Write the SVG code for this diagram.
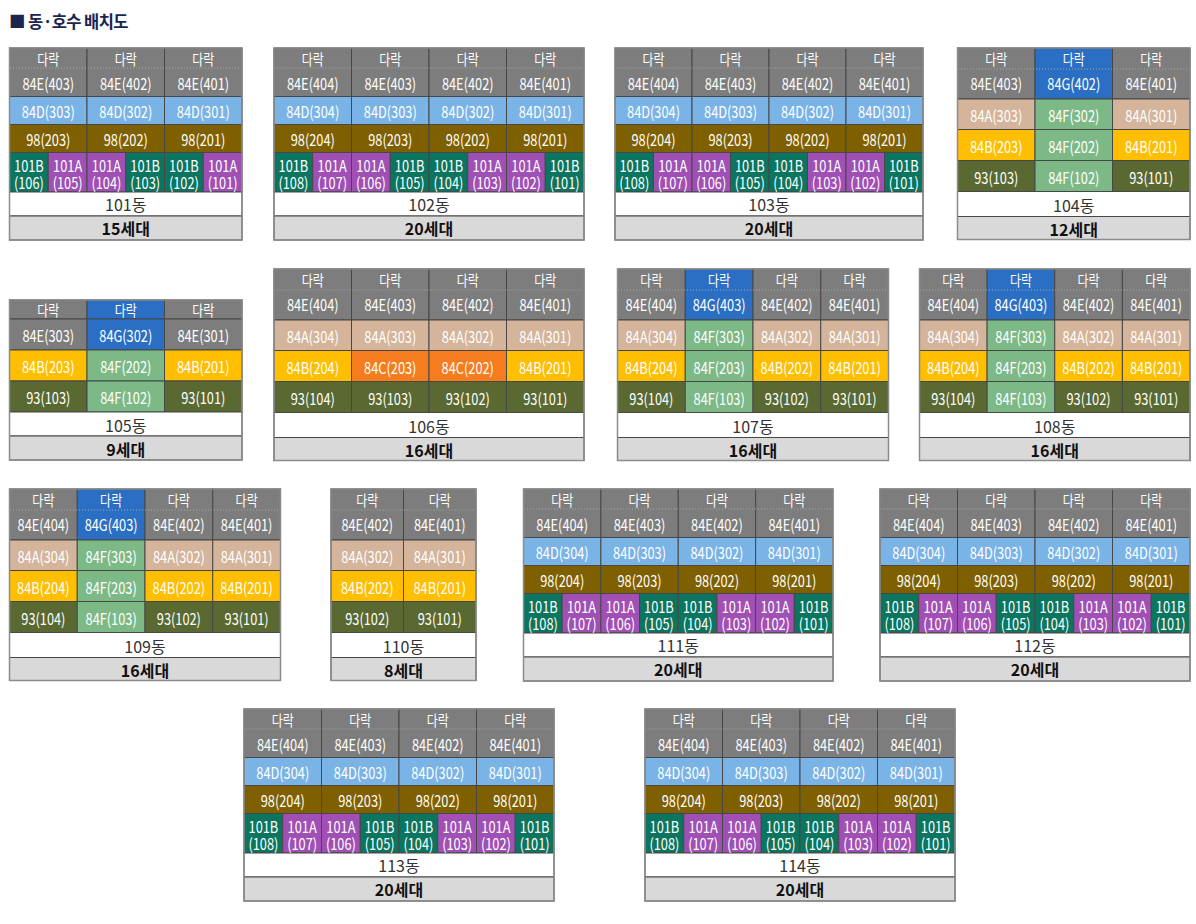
<svg xmlns="http://www.w3.org/2000/svg" width="1196" height="924" viewBox="0 0 1196 924">
<style>
text{font-family:"Noto Sans CJK KR","Noto Sans",sans-serif;text-anchor:middle;dominant-baseline:central}
rect{stroke:#474747;stroke-width:1}
.E{fill:#7d7d7d}.G{fill:#2b6fc4}.D{fill:#7ab3e5}.N{fill:#7f6000}.TB{fill:#0b7560}.PA{fill:#a050b4}
.A{fill:#d4b49b}.F{fill:#7db987}.B{fill:#ffbe00}.K{fill:#5a6932}.C{fill:#f57d1e}.W{fill:#fff}.S{fill:#d9d9d9}
.o{fill:none;stroke:#8c8c8c;stroke-width:1.5}
.dot{stroke:#a9a9a9;stroke-width:1;stroke-dasharray:1 2}
.c text{fill:#fff;font-size:16px}
.c .lt{font-size:15px}
.dg{font-size:16px;fill:#333}
.hh{font-size:16px;font-weight:700;fill:#111}
.title{font-size:16.5px;font-weight:700;fill:#1c2550;text-anchor:start;dominant-baseline:auto;letter-spacing:-0.6px}
</style>
<text class="title" x="9" y="28">■ 동·호수 배치도</text>

<g id="b101">
<rect class="E" x="9.5" y="48" width="77.5" height="48.5"/><rect class="E" x="87" y="48" width="77.5" height="48.5"/><rect class="E" x="164.5" y="48" width="77.5" height="48.5"/>
<rect class="D" x="9.5" y="96.5" width="77.5" height="28"/><rect class="D" x="87" y="96.5" width="77.5" height="28"/><rect class="D" x="164.5" y="96.5" width="77.5" height="28"/>
<rect class="N" x="9.5" y="124.5" width="77.5" height="28"/><rect class="N" x="87" y="124.5" width="77.5" height="28"/><rect class="N" x="164.5" y="124.5" width="77.5" height="28"/>
<rect class="TB" x="9.5" y="152.5" width="38.75" height="39.5"/><rect class="PA" x="48.25" y="152.5" width="38.75" height="39.5"/><rect class="PA" x="87" y="152.5" width="38.75" height="39.5"/><rect class="TB" x="125.75" y="152.5" width="38.75" height="39.5"/><rect class="TB" x="164.5" y="152.5" width="38.75" height="39.5"/><rect class="PA" x="203.25" y="152.5" width="38.75" height="39.5"/>
<rect class="W" x="9.5" y="192" width="232.5" height="24"/><rect class="S" x="9.5" y="216" width="232.5" height="24"/>
<line class="dot" x1="10" y1="68" x2="241.5" y2="68"/>
<rect class="o" x="9.5" y="48" width="232.5" height="192"/>
<g class="c" transform="translate(48.25 0) scale(.8 1)"><text class="lt" y="58.5">다락</text><text y="82.5">84E(403)</text><text y="110.5">84D(303)</text><text y="138.5">98(203)</text></g>
<g class="c" transform="translate(125.75 0) scale(.8 1)"><text class="lt" y="58.5">다락</text><text y="82.5">84E(402)</text><text y="110.5">84D(302)</text><text y="138.5">98(202)</text></g>
<g class="c" transform="translate(203.25 0) scale(.8 1)"><text class="lt" y="58.5">다락</text><text y="82.5">84E(401)</text><text y="110.5">84D(301)</text><text y="138.5">98(201)</text></g>
<g class="c" transform="translate(28.875 0) scale(.8 1)"><text><tspan x="0" y="164">101B</tspan><tspan x="0" y="181">(106)</tspan></text></g>
<g class="c" transform="translate(67.625 0) scale(.8 1)"><text><tspan x="0" y="164">101A</tspan><tspan x="0" y="181">(105)</tspan></text></g>
<g class="c" transform="translate(106.375 0) scale(.8 1)"><text><tspan x="0" y="164">101A</tspan><tspan x="0" y="181">(104)</tspan></text></g>
<g class="c" transform="translate(145.125 0) scale(.8 1)"><text><tspan x="0" y="164">101B</tspan><tspan x="0" y="181">(103)</tspan></text></g>
<g class="c" transform="translate(183.875 0) scale(.8 1)"><text><tspan x="0" y="164">101B</tspan><tspan x="0" y="181">(102)</tspan></text></g>
<g class="c" transform="translate(222.625 0) scale(.8 1)"><text><tspan x="0" y="164">101A</tspan><tspan x="0" y="181">(101)</tspan></text></g>
<text class="dg" x="125.75" y="204">101동</text><text class="hh" x="125.75" y="228">15세대</text>
</g>

<g id="b102">
<rect class="E" x="274" y="48" width="77.5" height="48.5"/><rect class="E" x="351.5" y="48" width="77.5" height="48.5"/><rect class="E" x="429" y="48" width="77.5" height="48.5"/><rect class="E" x="506.5" y="48" width="77.5" height="48.5"/>
<rect class="D" x="274" y="96.5" width="77.5" height="28"/><rect class="D" x="351.5" y="96.5" width="77.5" height="28"/><rect class="D" x="429" y="96.5" width="77.5" height="28"/><rect class="D" x="506.5" y="96.5" width="77.5" height="28"/>
<rect class="N" x="274" y="124.5" width="77.5" height="28"/><rect class="N" x="351.5" y="124.5" width="77.5" height="28"/><rect class="N" x="429" y="124.5" width="77.5" height="28"/><rect class="N" x="506.5" y="124.5" width="77.5" height="28"/>
<rect class="TB" x="274" y="152.5" width="38.75" height="39.5"/><rect class="PA" x="312.75" y="152.5" width="38.75" height="39.5"/><rect class="PA" x="351.5" y="152.5" width="38.75" height="39.5"/><rect class="TB" x="390.25" y="152.5" width="38.75" height="39.5"/><rect class="TB" x="429" y="152.5" width="38.75" height="39.5"/><rect class="PA" x="467.75" y="152.5" width="38.75" height="39.5"/><rect class="PA" x="506.5" y="152.5" width="38.75" height="39.5"/><rect class="TB" x="545.25" y="152.5" width="38.75" height="39.5"/>
<rect class="W" x="274" y="192" width="310" height="24"/><rect class="S" x="274" y="216" width="310" height="24"/>
<line class="dot" x1="274.5" y1="68" x2="583.5" y2="68"/>
<rect class="o" x="274" y="48" width="310" height="192"/>
<g class="c" transform="translate(312.75 0) scale(.8 1)"><text class="lt" y="58.5">다락</text><text y="82.5">84E(404)</text><text y="110.5">84D(304)</text><text y="138.5">98(204)</text></g>
<g class="c" transform="translate(390.25 0) scale(.8 1)"><text class="lt" y="58.5">다락</text><text y="82.5">84E(403)</text><text y="110.5">84D(303)</text><text y="138.5">98(203)</text></g>
<g class="c" transform="translate(467.75 0) scale(.8 1)"><text class="lt" y="58.5">다락</text><text y="82.5">84E(402)</text><text y="110.5">84D(302)</text><text y="138.5">98(202)</text></g>
<g class="c" transform="translate(545.25 0) scale(.8 1)"><text class="lt" y="58.5">다락</text><text y="82.5">84E(401)</text><text y="110.5">84D(301)</text><text y="138.5">98(201)</text></g>
<g class="c" transform="translate(293.375 0) scale(.8 1)"><text><tspan x="0" y="164">101B</tspan><tspan x="0" y="181">(108)</tspan></text></g>
<g class="c" transform="translate(332.125 0) scale(.8 1)"><text><tspan x="0" y="164">101A</tspan><tspan x="0" y="181">(107)</tspan></text></g>
<g class="c" transform="translate(370.875 0) scale(.8 1)"><text><tspan x="0" y="164">101A</tspan><tspan x="0" y="181">(106)</tspan></text></g>
<g class="c" transform="translate(409.625 0) scale(.8 1)"><text><tspan x="0" y="164">101B</tspan><tspan x="0" y="181">(105)</tspan></text></g>
<g class="c" transform="translate(448.375 0) scale(.8 1)"><text><tspan x="0" y="164">101B</tspan><tspan x="0" y="181">(104)</tspan></text></g>
<g class="c" transform="translate(487.125 0) scale(.8 1)"><text><tspan x="0" y="164">101A</tspan><tspan x="0" y="181">(103)</tspan></text></g>
<g class="c" transform="translate(525.875 0) scale(.8 1)"><text><tspan x="0" y="164">101A</tspan><tspan x="0" y="181">(102)</tspan></text></g>
<g class="c" transform="translate(564.625 0) scale(.8 1)"><text><tspan x="0" y="164">101B</tspan><tspan x="0" y="181">(101)</tspan></text></g>
<text class="dg" x="429" y="204">102동</text><text class="hh" x="429" y="228">20세대</text>
</g>

<g id="b103">
<rect class="E" x="615" y="48" width="77" height="48.5"/><rect class="E" x="692" y="48" width="77" height="48.5"/><rect class="E" x="769" y="48" width="77" height="48.5"/><rect class="E" x="846" y="48" width="77" height="48.5"/>
<rect class="D" x="615" y="96.5" width="77" height="28"/><rect class="D" x="692" y="96.5" width="77" height="28"/><rect class="D" x="769" y="96.5" width="77" height="28"/><rect class="D" x="846" y="96.5" width="77" height="28"/>
<rect class="N" x="615" y="124.5" width="77" height="28"/><rect class="N" x="692" y="124.5" width="77" height="28"/><rect class="N" x="769" y="124.5" width="77" height="28"/><rect class="N" x="846" y="124.5" width="77" height="28"/>
<rect class="TB" x="615" y="152.5" width="38.5" height="39.5"/><rect class="PA" x="653.5" y="152.5" width="38.5" height="39.5"/><rect class="PA" x="692" y="152.5" width="38.5" height="39.5"/><rect class="TB" x="730.5" y="152.5" width="38.5" height="39.5"/><rect class="TB" x="769" y="152.5" width="38.5" height="39.5"/><rect class="PA" x="807.5" y="152.5" width="38.5" height="39.5"/><rect class="PA" x="846" y="152.5" width="38.5" height="39.5"/><rect class="TB" x="884.5" y="152.5" width="38.5" height="39.5"/>
<rect class="W" x="615" y="192" width="308" height="24"/><rect class="S" x="615" y="216" width="308" height="24"/>
<line class="dot" x1="615.5" y1="68" x2="922.5" y2="68"/>
<rect class="o" x="615" y="48" width="308" height="192"/>
<g class="c" transform="translate(653.5 0) scale(.8 1)"><text class="lt" y="58.5">다락</text><text y="82.5">84E(404)</text><text y="110.5">84D(304)</text><text y="138.5">98(204)</text></g>
<g class="c" transform="translate(730.5 0) scale(.8 1)"><text class="lt" y="58.5">다락</text><text y="82.5">84E(403)</text><text y="110.5">84D(303)</text><text y="138.5">98(203)</text></g>
<g class="c" transform="translate(807.5 0) scale(.8 1)"><text class="lt" y="58.5">다락</text><text y="82.5">84E(402)</text><text y="110.5">84D(302)</text><text y="138.5">98(202)</text></g>
<g class="c" transform="translate(884.5 0) scale(.8 1)"><text class="lt" y="58.5">다락</text><text y="82.5">84E(401)</text><text y="110.5">84D(301)</text><text y="138.5">98(201)</text></g>
<g class="c" transform="translate(634.25 0) scale(.8 1)"><text><tspan x="0" y="164">101B</tspan><tspan x="0" y="181">(108)</tspan></text></g>
<g class="c" transform="translate(672.75 0) scale(.8 1)"><text><tspan x="0" y="164">101A</tspan><tspan x="0" y="181">(107)</tspan></text></g>
<g class="c" transform="translate(711.25 0) scale(.8 1)"><text><tspan x="0" y="164">101A</tspan><tspan x="0" y="181">(106)</tspan></text></g>
<g class="c" transform="translate(749.75 0) scale(.8 1)"><text><tspan x="0" y="164">101B</tspan><tspan x="0" y="181">(105)</tspan></text></g>
<g class="c" transform="translate(788.25 0) scale(.8 1)"><text><tspan x="0" y="164">101B</tspan><tspan x="0" y="181">(104)</tspan></text></g>
<g class="c" transform="translate(826.75 0) scale(.8 1)"><text><tspan x="0" y="164">101A</tspan><tspan x="0" y="181">(103)</tspan></text></g>
<g class="c" transform="translate(865.25 0) scale(.8 1)"><text><tspan x="0" y="164">101A</tspan><tspan x="0" y="181">(102)</tspan></text></g>
<g class="c" transform="translate(903.75 0) scale(.8 1)"><text><tspan x="0" y="164">101B</tspan><tspan x="0" y="181">(101)</tspan></text></g>
<text class="dg" x="769" y="204">103동</text><text class="hh" x="769" y="228">20세대</text>
</g>

<g id="b104">
<rect class="E" x="957.5" y="48" width="77.5" height="51"/><rect class="G" x="1035" y="48" width="77.5" height="51"/><rect class="E" x="1112.5" y="48" width="77.5" height="51"/>
<rect class="A" x="957.5" y="99" width="77.5" height="30.5"/><rect class="F" x="1035" y="99" width="77.5" height="30.5"/><rect class="A" x="1112.5" y="99" width="77.5" height="30.5"/>
<rect class="B" x="957.5" y="129.5" width="77.5" height="31"/><rect class="F" x="1035" y="129.5" width="77.5" height="31"/><rect class="B" x="1112.5" y="129.5" width="77.5" height="31"/>
<rect class="K" x="957.5" y="160.5" width="77.5" height="31"/><rect class="F" x="1035" y="160.5" width="77.5" height="31"/><rect class="K" x="1112.5" y="160.5" width="77.5" height="31"/>
<rect class="W" x="957.5" y="191.5" width="232.5" height="25"/><rect class="S" x="957.5" y="216.5" width="232.5" height="23"/>
<line class="dot" x1="958" y1="69" x2="1189.5" y2="69"/>
<rect class="o" x="957.5" y="48" width="232.5" height="191.5"/>
<g class="c" transform="translate(996.25 0) scale(.8 1)"><text class="lt" y="58">다락</text><text y="82.5">84E(403)</text><text y="114.5">84A(303)</text><text y="145.5">84B(203)</text><text y="176.5">93(103)</text></g>
<g class="c" transform="translate(1073.75 0) scale(.8 1)"><text class="lt" y="58">다락</text><text y="82.5">84G(402)</text><text y="114.5">84F(302)</text><text y="145.5">84F(202)</text><text y="176.5">84F(102)</text></g>
<g class="c" transform="translate(1151.25 0) scale(.8 1)"><text class="lt" y="58">다락</text><text y="82.5">84E(401)</text><text y="114.5">84A(301)</text><text y="145.5">84B(201)</text><text y="176.5">93(101)</text></g>
<text class="dg" x="1073.75" y="204.5">104동</text><text class="hh" x="1073.75" y="228.5">12세대</text>
</g>

<g id="b105">
<rect class="E" x="9.5" y="300" width="77.5" height="19"/><rect class="G" x="87" y="300" width="77.5" height="19"/><rect class="E" x="164.5" y="300" width="77.5" height="19"/>
<rect class="E" x="9.5" y="319" width="77.5" height="31"/><rect class="G" x="87" y="319" width="77.5" height="31"/><rect class="E" x="164.5" y="319" width="77.5" height="31"/>
<rect class="B" x="9.5" y="350" width="77.5" height="31"/><rect class="F" x="87" y="350" width="77.5" height="31"/><rect class="B" x="164.5" y="350" width="77.5" height="31"/>
<rect class="K" x="9.5" y="381" width="77.5" height="31"/><rect class="F" x="87" y="381" width="77.5" height="31"/><rect class="K" x="164.5" y="381" width="77.5" height="31"/>
<rect class="W" x="9.5" y="412" width="232.5" height="24"/><rect class="S" x="9.5" y="436" width="232.5" height="24"/>
<rect class="o" x="9.5" y="300" width="232.5" height="160"/>
<g class="c" transform="translate(48.25 0) scale(.8 1)"><text class="lt" y="309.5">다락</text><text y="335">84E(303)</text><text y="366">84B(203)</text><text y="397">93(103)</text></g>
<g class="c" transform="translate(125.75 0) scale(.8 1)"><text class="lt" y="309.5">다락</text><text y="335">84G(302)</text><text y="366">84F(202)</text><text y="397">84F(102)</text></g>
<g class="c" transform="translate(203.25 0) scale(.8 1)"><text class="lt" y="309.5">다락</text><text y="335">84E(301)</text><text y="366">84B(201)</text><text y="397">93(101)</text></g>
<text class="dg" x="125.75" y="425">105동</text><text class="hh" x="125.75" y="449">9세대</text>
</g>

<g id="b106">
<rect class="E" x="274" y="269" width="77.5" height="51"/><rect class="E" x="351.5" y="269" width="77.5" height="51"/><rect class="E" x="429" y="269" width="77.5" height="51"/><rect class="E" x="506.5" y="269" width="77.5" height="51"/>
<rect class="A" x="274" y="320" width="77.5" height="30.5"/><rect class="A" x="351.5" y="320" width="77.5" height="30.5"/><rect class="A" x="429" y="320" width="77.5" height="30.5"/><rect class="A" x="506.5" y="320" width="77.5" height="30.5"/>
<rect class="B" x="274" y="350.5" width="77.5" height="31"/><rect class="C" x="351.5" y="350.5" width="77.5" height="31"/><rect class="C" x="429" y="350.5" width="77.5" height="31"/><rect class="B" x="506.5" y="350.5" width="77.5" height="31"/>
<rect class="K" x="274" y="381.5" width="77.5" height="31"/><rect class="K" x="351.5" y="381.5" width="77.5" height="31"/><rect class="K" x="429" y="381.5" width="77.5" height="31"/><rect class="K" x="506.5" y="381.5" width="77.5" height="31"/>
<rect class="W" x="274" y="412.5" width="310" height="25"/><rect class="S" x="274" y="437.5" width="310" height="23"/>
<line class="dot" x1="274.5" y1="290" x2="583.5" y2="290"/>
<rect class="o" x="274" y="269" width="310" height="191.5"/>
<g class="c" transform="translate(312.75 0) scale(.8 1)"><text class="lt" y="279">다락</text><text y="303.5">84E(404)</text><text y="335.5">84A(304)</text><text y="366.5">84B(204)</text><text y="397.5">93(104)</text></g>
<g class="c" transform="translate(390.25 0) scale(.8 1)"><text class="lt" y="279">다락</text><text y="303.5">84E(403)</text><text y="335.5">84A(303)</text><text y="366.5">84C(203)</text><text y="397.5">93(103)</text></g>
<g class="c" transform="translate(467.75 0) scale(.8 1)"><text class="lt" y="279">다락</text><text y="303.5">84E(402)</text><text y="335.5">84A(302)</text><text y="366.5">84C(202)</text><text y="397.5">93(102)</text></g>
<g class="c" transform="translate(545.25 0) scale(.8 1)"><text class="lt" y="279">다락</text><text y="303.5">84E(401)</text><text y="335.5">84A(301)</text><text y="366.5">84B(201)</text><text y="397.5">93(101)</text></g>
<text class="dg" x="429" y="425.5">106동</text><text class="hh" x="429" y="449.5">16세대</text>
</g>

<g id="b107">
<rect class="E" x="617.5" y="269" width="67.75" height="51"/><rect class="G" x="685.25" y="269" width="67.75" height="51"/><rect class="E" x="753" y="269" width="67.75" height="51"/><rect class="E" x="820.75" y="269" width="67.75" height="51"/>
<rect class="A" x="617.5" y="320" width="67.75" height="30.5"/><rect class="F" x="685.25" y="320" width="67.75" height="30.5"/><rect class="A" x="753" y="320" width="67.75" height="30.5"/><rect class="A" x="820.75" y="320" width="67.75" height="30.5"/>
<rect class="B" x="617.5" y="350.5" width="67.75" height="31"/><rect class="F" x="685.25" y="350.5" width="67.75" height="31"/><rect class="B" x="753" y="350.5" width="67.75" height="31"/><rect class="B" x="820.75" y="350.5" width="67.75" height="31"/>
<rect class="K" x="617.5" y="381.5" width="67.75" height="31"/><rect class="F" x="685.25" y="381.5" width="67.75" height="31"/><rect class="K" x="753" y="381.5" width="67.75" height="31"/><rect class="K" x="820.75" y="381.5" width="67.75" height="31"/>
<rect class="W" x="617.5" y="412.5" width="271" height="25"/><rect class="S" x="617.5" y="437.5" width="271" height="23"/>
<line class="dot" x1="618" y1="290" x2="888" y2="290"/>
<rect class="o" x="617.5" y="269" width="271" height="191.5"/>
<g class="c" transform="translate(651.375 0) scale(.8 1)"><text class="lt" y="279">다락</text><text y="303.5">84E(404)</text><text y="335.5">84A(304)</text><text y="366.5">84B(204)</text><text y="397.5">93(104)</text></g>
<g class="c" transform="translate(719.125 0) scale(.8 1)"><text class="lt" y="279">다락</text><text y="303.5">84G(403)</text><text y="335.5">84F(303)</text><text y="366.5">84F(203)</text><text y="397.5">84F(103)</text></g>
<g class="c" transform="translate(786.875 0) scale(.8 1)"><text class="lt" y="279">다락</text><text y="303.5">84E(402)</text><text y="335.5">84A(302)</text><text y="366.5">84B(202)</text><text y="397.5">93(102)</text></g>
<g class="c" transform="translate(854.625 0) scale(.8 1)"><text class="lt" y="279">다락</text><text y="303.5">84E(401)</text><text y="335.5">84A(301)</text><text y="366.5">84B(201)</text><text y="397.5">93(101)</text></g>
<text class="dg" x="753" y="425.5">107동</text><text class="hh" x="753" y="449.5">16세대</text>
</g>

<g id="b108">
<rect class="E" x="919.5" y="269" width="67.625" height="51"/><rect class="G" x="987.125" y="269" width="67.625" height="51"/><rect class="E" x="1054.75" y="269" width="67.625" height="51"/><rect class="E" x="1122.375" y="269" width="67.625" height="51"/>
<rect class="A" x="919.5" y="320" width="67.625" height="30.5"/><rect class="F" x="987.125" y="320" width="67.625" height="30.5"/><rect class="A" x="1054.75" y="320" width="67.625" height="30.5"/><rect class="A" x="1122.375" y="320" width="67.625" height="30.5"/>
<rect class="B" x="919.5" y="350.5" width="67.625" height="31"/><rect class="F" x="987.125" y="350.5" width="67.625" height="31"/><rect class="B" x="1054.75" y="350.5" width="67.625" height="31"/><rect class="B" x="1122.375" y="350.5" width="67.625" height="31"/>
<rect class="K" x="919.5" y="381.5" width="67.625" height="31"/><rect class="F" x="987.125" y="381.5" width="67.625" height="31"/><rect class="K" x="1054.75" y="381.5" width="67.625" height="31"/><rect class="K" x="1122.375" y="381.5" width="67.625" height="31"/>
<rect class="W" x="919.5" y="412.5" width="270.5" height="25"/><rect class="S" x="919.5" y="437.5" width="270.5" height="23"/>
<line class="dot" x1="920" y1="290" x2="1189.5" y2="290"/>
<rect class="o" x="919.5" y="269" width="270.5" height="191.5"/>
<g class="c" transform="translate(953.31 0) scale(.8 1)"><text class="lt" y="279">다락</text><text y="303.5">84E(404)</text><text y="335.5">84A(304)</text><text y="366.5">84B(204)</text><text y="397.5">93(104)</text></g>
<g class="c" transform="translate(1020.94 0) scale(.8 1)"><text class="lt" y="279">다락</text><text y="303.5">84G(403)</text><text y="335.5">84F(303)</text><text y="366.5">84F(203)</text><text y="397.5">84F(103)</text></g>
<g class="c" transform="translate(1088.56 0) scale(.8 1)"><text class="lt" y="279">다락</text><text y="303.5">84E(402)</text><text y="335.5">84A(302)</text><text y="366.5">84B(202)</text><text y="397.5">93(102)</text></g>
<g class="c" transform="translate(1156.19 0) scale(.8 1)"><text class="lt" y="279">다락</text><text y="303.5">84E(401)</text><text y="335.5">84A(301)</text><text y="366.5">84B(201)</text><text y="397.5">93(101)</text></g>
<text class="dg" x="1054.75" y="425.5">108동</text><text class="hh" x="1054.75" y="449.5">16세대</text>
</g>

<g id="b109">
<rect class="E" x="9.5" y="489" width="67.75" height="51"/><rect class="G" x="77.25" y="489" width="67.75" height="51"/><rect class="E" x="145" y="489" width="67.75" height="51"/><rect class="E" x="212.75" y="489" width="67.75" height="51"/>
<rect class="A" x="9.5" y="540" width="67.75" height="30.5"/><rect class="F" x="77.25" y="540" width="67.75" height="30.5"/><rect class="A" x="145" y="540" width="67.75" height="30.5"/><rect class="A" x="212.75" y="540" width="67.75" height="30.5"/>
<rect class="B" x="9.5" y="570.5" width="67.75" height="31"/><rect class="F" x="77.25" y="570.5" width="67.75" height="31"/><rect class="B" x="145" y="570.5" width="67.75" height="31"/><rect class="B" x="212.75" y="570.5" width="67.75" height="31"/>
<rect class="K" x="9.5" y="601.5" width="67.75" height="31"/><rect class="F" x="77.25" y="601.5" width="67.75" height="31"/><rect class="K" x="145" y="601.5" width="67.75" height="31"/><rect class="K" x="212.75" y="601.5" width="67.75" height="31"/>
<rect class="W" x="9.5" y="632.5" width="271" height="25"/><rect class="S" x="9.5" y="657.5" width="271" height="23"/>
<line class="dot" x1="10" y1="510" x2="280" y2="510"/>
<rect class="o" x="9.5" y="489" width="271" height="191.5"/>
<g class="c" transform="translate(43.375 0) scale(.8 1)"><text class="lt" y="499">다락</text><text y="523.5">84E(404)</text><text y="555.5">84A(304)</text><text y="586.5">84B(204)</text><text y="617.5">93(104)</text></g>
<g class="c" transform="translate(111.125 0) scale(.8 1)"><text class="lt" y="499">다락</text><text y="523.5">84G(403)</text><text y="555.5">84F(303)</text><text y="586.5">84F(203)</text><text y="617.5">84F(103)</text></g>
<g class="c" transform="translate(178.875 0) scale(.8 1)"><text class="lt" y="499">다락</text><text y="523.5">84E(402)</text><text y="555.5">84A(302)</text><text y="586.5">84B(202)</text><text y="617.5">93(102)</text></g>
<g class="c" transform="translate(246.625 0) scale(.8 1)"><text class="lt" y="499">다락</text><text y="523.5">84E(401)</text><text y="555.5">84A(301)</text><text y="586.5">84B(201)</text><text y="617.5">93(101)</text></g>
<text class="dg" x="145" y="645.5">109동</text><text class="hh" x="145" y="669.5">16세대</text>
</g>

<g id="b110">
<rect class="E" x="331" y="489" width="72.5" height="51"/><rect class="E" x="403.5" y="489" width="72.5" height="51"/>
<rect class="A" x="331" y="540" width="72.5" height="30.5"/><rect class="A" x="403.5" y="540" width="72.5" height="30.5"/>
<rect class="B" x="331" y="570.5" width="72.5" height="31"/><rect class="B" x="403.5" y="570.5" width="72.5" height="31"/>
<rect class="K" x="331" y="601.5" width="72.5" height="31"/><rect class="K" x="403.5" y="601.5" width="72.5" height="31"/>
<rect class="W" x="331" y="632.5" width="145" height="25"/><rect class="S" x="331" y="657.5" width="145" height="23"/>
<line class="dot" x1="331.5" y1="510" x2="475.5" y2="510"/>
<rect class="o" x="331" y="489" width="145" height="191.5"/>
<g class="c" transform="translate(367.25 0) scale(.8 1)"><text class="lt" y="499">다락</text><text y="523.5">84E(402)</text><text y="555.5">84A(302)</text><text y="586.5">84B(202)</text><text y="617.5">93(102)</text></g>
<g class="c" transform="translate(439.75 0) scale(.8 1)"><text class="lt" y="499">다락</text><text y="523.5">84E(401)</text><text y="555.5">84A(301)</text><text y="586.5">84B(201)</text><text y="617.5">93(101)</text></g>
<text class="dg" x="403.5" y="645.5">110동</text><text class="hh" x="403.5" y="669.5">8세대</text>
</g>

<g id="b111">
<rect class="E" x="523.5" y="489" width="77.375" height="48.5"/><rect class="E" x="600.875" y="489" width="77.375" height="48.5"/><rect class="E" x="678.25" y="489" width="77.375" height="48.5"/><rect class="E" x="755.625" y="489" width="77.375" height="48.5"/>
<rect class="D" x="523.5" y="537.5" width="77.375" height="28"/><rect class="D" x="600.875" y="537.5" width="77.375" height="28"/><rect class="D" x="678.25" y="537.5" width="77.375" height="28"/><rect class="D" x="755.625" y="537.5" width="77.375" height="28"/>
<rect class="N" x="523.5" y="565.5" width="77.375" height="28"/><rect class="N" x="600.875" y="565.5" width="77.375" height="28"/><rect class="N" x="678.25" y="565.5" width="77.375" height="28"/><rect class="N" x="755.625" y="565.5" width="77.375" height="28"/>
<rect class="TB" x="523.5" y="593.5" width="38.69" height="39.5"/><rect class="PA" x="562.19" y="593.5" width="38.69" height="39.5"/><rect class="PA" x="600.875" y="593.5" width="38.69" height="39.5"/><rect class="TB" x="639.56" y="593.5" width="38.69" height="39.5"/><rect class="TB" x="678.25" y="593.5" width="38.69" height="39.5"/><rect class="PA" x="716.94" y="593.5" width="38.69" height="39.5"/><rect class="PA" x="755.625" y="593.5" width="38.69" height="39.5"/><rect class="TB" x="794.31" y="593.5" width="38.69" height="39.5"/>
<rect class="W" x="523.5" y="633" width="309.5" height="24"/><rect class="S" x="523.5" y="657" width="309.5" height="24"/>
<line class="dot" x1="524" y1="509" x2="832.5" y2="509"/>
<rect class="o" x="523.5" y="489" width="309.5" height="192"/>
<g class="c" transform="translate(562.19 0) scale(.8 1)"><text class="lt" y="499.5">다락</text><text y="523.5">84E(404)</text><text y="551.5">84D(304)</text><text y="579.5">98(204)</text></g>
<g class="c" transform="translate(639.56 0) scale(.8 1)"><text class="lt" y="499.5">다락</text><text y="523.5">84E(403)</text><text y="551.5">84D(303)</text><text y="579.5">98(203)</text></g>
<g class="c" transform="translate(716.94 0) scale(.8 1)"><text class="lt" y="499.5">다락</text><text y="523.5">84E(402)</text><text y="551.5">84D(302)</text><text y="579.5">98(202)</text></g>
<g class="c" transform="translate(794.31 0) scale(.8 1)"><text class="lt" y="499.5">다락</text><text y="523.5">84E(401)</text><text y="551.5">84D(301)</text><text y="579.5">98(201)</text></g>
<g class="c" transform="translate(542.84 0) scale(.8 1)"><text><tspan x="0" y="605">101B</tspan><tspan x="0" y="622">(108)</tspan></text></g>
<g class="c" transform="translate(581.53 0) scale(.8 1)"><text><tspan x="0" y="605">101A</tspan><tspan x="0" y="622">(107)</tspan></text></g>
<g class="c" transform="translate(620.22 0) scale(.8 1)"><text><tspan x="0" y="605">101A</tspan><tspan x="0" y="622">(106)</tspan></text></g>
<g class="c" transform="translate(658.91 0) scale(.8 1)"><text><tspan x="0" y="605">101B</tspan><tspan x="0" y="622">(105)</tspan></text></g>
<g class="c" transform="translate(697.59 0) scale(.8 1)"><text><tspan x="0" y="605">101B</tspan><tspan x="0" y="622">(104)</tspan></text></g>
<g class="c" transform="translate(736.28 0) scale(.8 1)"><text><tspan x="0" y="605">101A</tspan><tspan x="0" y="622">(103)</tspan></text></g>
<g class="c" transform="translate(774.97 0) scale(.8 1)"><text><tspan x="0" y="605">101A</tspan><tspan x="0" y="622">(102)</tspan></text></g>
<g class="c" transform="translate(813.66 0) scale(.8 1)"><text><tspan x="0" y="605">101B</tspan><tspan x="0" y="622">(101)</tspan></text></g>
<text class="dg" x="678.25" y="645">111동</text><text class="hh" x="678.25" y="669">20세대</text>
</g>

<g id="b112">
<rect class="E" x="880" y="489" width="77.5" height="48.5"/><rect class="E" x="957.5" y="489" width="77.5" height="48.5"/><rect class="E" x="1035" y="489" width="77.5" height="48.5"/><rect class="E" x="1112.5" y="489" width="77.5" height="48.5"/>
<rect class="D" x="880" y="537.5" width="77.5" height="28"/><rect class="D" x="957.5" y="537.5" width="77.5" height="28"/><rect class="D" x="1035" y="537.5" width="77.5" height="28"/><rect class="D" x="1112.5" y="537.5" width="77.5" height="28"/>
<rect class="N" x="880" y="565.5" width="77.5" height="28"/><rect class="N" x="957.5" y="565.5" width="77.5" height="28"/><rect class="N" x="1035" y="565.5" width="77.5" height="28"/><rect class="N" x="1112.5" y="565.5" width="77.5" height="28"/>
<rect class="TB" x="880" y="593.5" width="38.75" height="39.5"/><rect class="PA" x="918.75" y="593.5" width="38.75" height="39.5"/><rect class="PA" x="957.5" y="593.5" width="38.75" height="39.5"/><rect class="TB" x="996.25" y="593.5" width="38.75" height="39.5"/><rect class="TB" x="1035" y="593.5" width="38.75" height="39.5"/><rect class="PA" x="1073.75" y="593.5" width="38.75" height="39.5"/><rect class="PA" x="1112.5" y="593.5" width="38.75" height="39.5"/><rect class="TB" x="1151.25" y="593.5" width="38.75" height="39.5"/>
<rect class="W" x="880" y="633" width="310" height="24"/><rect class="S" x="880" y="657" width="310" height="24"/>
<line class="dot" x1="880.5" y1="509" x2="1189.5" y2="509"/>
<rect class="o" x="880" y="489" width="310" height="192"/>
<g class="c" transform="translate(918.75 0) scale(.8 1)"><text class="lt" y="499.5">다락</text><text y="523.5">84E(404)</text><text y="551.5">84D(304)</text><text y="579.5">98(204)</text></g>
<g class="c" transform="translate(996.25 0) scale(.8 1)"><text class="lt" y="499.5">다락</text><text y="523.5">84E(403)</text><text y="551.5">84D(303)</text><text y="579.5">98(203)</text></g>
<g class="c" transform="translate(1073.75 0) scale(.8 1)"><text class="lt" y="499.5">다락</text><text y="523.5">84E(402)</text><text y="551.5">84D(302)</text><text y="579.5">98(202)</text></g>
<g class="c" transform="translate(1151.25 0) scale(.8 1)"><text class="lt" y="499.5">다락</text><text y="523.5">84E(401)</text><text y="551.5">84D(301)</text><text y="579.5">98(201)</text></g>
<g class="c" transform="translate(899.375 0) scale(.8 1)"><text><tspan x="0" y="605">101B</tspan><tspan x="0" y="622">(108)</tspan></text></g>
<g class="c" transform="translate(938.125 0) scale(.8 1)"><text><tspan x="0" y="605">101A</tspan><tspan x="0" y="622">(107)</tspan></text></g>
<g class="c" transform="translate(976.875 0) scale(.8 1)"><text><tspan x="0" y="605">101A</tspan><tspan x="0" y="622">(106)</tspan></text></g>
<g class="c" transform="translate(1015.625 0) scale(.8 1)"><text><tspan x="0" y="605">101B</tspan><tspan x="0" y="622">(105)</tspan></text></g>
<g class="c" transform="translate(1054.375 0) scale(.8 1)"><text><tspan x="0" y="605">101B</tspan><tspan x="0" y="622">(104)</tspan></text></g>
<g class="c" transform="translate(1093.125 0) scale(.8 1)"><text><tspan x="0" y="605">101A</tspan><tspan x="0" y="622">(103)</tspan></text></g>
<g class="c" transform="translate(1131.875 0) scale(.8 1)"><text><tspan x="0" y="605">101A</tspan><tspan x="0" y="622">(102)</tspan></text></g>
<g class="c" transform="translate(1170.625 0) scale(.8 1)"><text><tspan x="0" y="605">101B</tspan><tspan x="0" y="622">(101)</tspan></text></g>
<text class="dg" x="1035" y="645">112동</text><text class="hh" x="1035" y="669">20세대</text>
</g>

<g id="b113">
<rect class="E" x="244" y="709" width="77.5" height="48.5"/><rect class="E" x="321.5" y="709" width="77.5" height="48.5"/><rect class="E" x="399" y="709" width="77.5" height="48.5"/><rect class="E" x="476.5" y="709" width="77.5" height="48.5"/>
<rect class="D" x="244" y="757.5" width="77.5" height="28"/><rect class="D" x="321.5" y="757.5" width="77.5" height="28"/><rect class="D" x="399" y="757.5" width="77.5" height="28"/><rect class="D" x="476.5" y="757.5" width="77.5" height="28"/>
<rect class="N" x="244" y="785.5" width="77.5" height="28"/><rect class="N" x="321.5" y="785.5" width="77.5" height="28"/><rect class="N" x="399" y="785.5" width="77.5" height="28"/><rect class="N" x="476.5" y="785.5" width="77.5" height="28"/>
<rect class="TB" x="244" y="813.5" width="38.75" height="39.5"/><rect class="PA" x="282.75" y="813.5" width="38.75" height="39.5"/><rect class="PA" x="321.5" y="813.5" width="38.75" height="39.5"/><rect class="TB" x="360.25" y="813.5" width="38.75" height="39.5"/><rect class="TB" x="399" y="813.5" width="38.75" height="39.5"/><rect class="PA" x="437.75" y="813.5" width="38.75" height="39.5"/><rect class="PA" x="476.5" y="813.5" width="38.75" height="39.5"/><rect class="TB" x="515.25" y="813.5" width="38.75" height="39.5"/>
<rect class="W" x="244" y="853" width="310" height="24"/><rect class="S" x="244" y="877" width="310" height="24"/>
<line class="dot" x1="244.5" y1="729" x2="553.5" y2="729"/>
<rect class="o" x="244" y="709" width="310" height="192"/>
<g class="c" transform="translate(282.75 0) scale(.8 1)"><text class="lt" y="719.5">다락</text><text y="743.5">84E(404)</text><text y="771.5">84D(304)</text><text y="799.5">98(204)</text></g>
<g class="c" transform="translate(360.25 0) scale(.8 1)"><text class="lt" y="719.5">다락</text><text y="743.5">84E(403)</text><text y="771.5">84D(303)</text><text y="799.5">98(203)</text></g>
<g class="c" transform="translate(437.75 0) scale(.8 1)"><text class="lt" y="719.5">다락</text><text y="743.5">84E(402)</text><text y="771.5">84D(302)</text><text y="799.5">98(202)</text></g>
<g class="c" transform="translate(515.25 0) scale(.8 1)"><text class="lt" y="719.5">다락</text><text y="743.5">84E(401)</text><text y="771.5">84D(301)</text><text y="799.5">98(201)</text></g>
<g class="c" transform="translate(263.375 0) scale(.8 1)"><text><tspan x="0" y="825">101B</tspan><tspan x="0" y="842">(108)</tspan></text></g>
<g class="c" transform="translate(302.125 0) scale(.8 1)"><text><tspan x="0" y="825">101A</tspan><tspan x="0" y="842">(107)</tspan></text></g>
<g class="c" transform="translate(340.875 0) scale(.8 1)"><text><tspan x="0" y="825">101A</tspan><tspan x="0" y="842">(106)</tspan></text></g>
<g class="c" transform="translate(379.625 0) scale(.8 1)"><text><tspan x="0" y="825">101B</tspan><tspan x="0" y="842">(105)</tspan></text></g>
<g class="c" transform="translate(418.375 0) scale(.8 1)"><text><tspan x="0" y="825">101B</tspan><tspan x="0" y="842">(104)</tspan></text></g>
<g class="c" transform="translate(457.125 0) scale(.8 1)"><text><tspan x="0" y="825">101A</tspan><tspan x="0" y="842">(103)</tspan></text></g>
<g class="c" transform="translate(495.875 0) scale(.8 1)"><text><tspan x="0" y="825">101A</tspan><tspan x="0" y="842">(102)</tspan></text></g>
<g class="c" transform="translate(534.625 0) scale(.8 1)"><text><tspan x="0" y="825">101B</tspan><tspan x="0" y="842">(101)</tspan></text></g>
<text class="dg" x="399" y="865">113동</text><text class="hh" x="399" y="889">20세대</text>
</g>

<g id="b114">
<rect class="E" x="645" y="709" width="77.5" height="48.5"/><rect class="E" x="722.5" y="709" width="77.5" height="48.5"/><rect class="E" x="800" y="709" width="77.5" height="48.5"/><rect class="E" x="877.5" y="709" width="77.5" height="48.5"/>
<rect class="D" x="645" y="757.5" width="77.5" height="28"/><rect class="D" x="722.5" y="757.5" width="77.5" height="28"/><rect class="D" x="800" y="757.5" width="77.5" height="28"/><rect class="D" x="877.5" y="757.5" width="77.5" height="28"/>
<rect class="N" x="645" y="785.5" width="77.5" height="28"/><rect class="N" x="722.5" y="785.5" width="77.5" height="28"/><rect class="N" x="800" y="785.5" width="77.5" height="28"/><rect class="N" x="877.5" y="785.5" width="77.5" height="28"/>
<rect class="TB" x="645" y="813.5" width="38.75" height="39.5"/><rect class="PA" x="683.75" y="813.5" width="38.75" height="39.5"/><rect class="PA" x="722.5" y="813.5" width="38.75" height="39.5"/><rect class="TB" x="761.25" y="813.5" width="38.75" height="39.5"/><rect class="TB" x="800" y="813.5" width="38.75" height="39.5"/><rect class="PA" x="838.75" y="813.5" width="38.75" height="39.5"/><rect class="PA" x="877.5" y="813.5" width="38.75" height="39.5"/><rect class="TB" x="916.25" y="813.5" width="38.75" height="39.5"/>
<rect class="W" x="645" y="853" width="310" height="24"/><rect class="S" x="645" y="877" width="310" height="24"/>
<line class="dot" x1="645.5" y1="729" x2="954.5" y2="729"/>
<rect class="o" x="645" y="709" width="310" height="192"/>
<g class="c" transform="translate(683.75 0) scale(.8 1)"><text class="lt" y="719.5">다락</text><text y="743.5">84E(404)</text><text y="771.5">84D(304)</text><text y="799.5">98(204)</text></g>
<g class="c" transform="translate(761.25 0) scale(.8 1)"><text class="lt" y="719.5">다락</text><text y="743.5">84E(403)</text><text y="771.5">84D(303)</text><text y="799.5">98(203)</text></g>
<g class="c" transform="translate(838.75 0) scale(.8 1)"><text class="lt" y="719.5">다락</text><text y="743.5">84E(402)</text><text y="771.5">84D(302)</text><text y="799.5">98(202)</text></g>
<g class="c" transform="translate(916.25 0) scale(.8 1)"><text class="lt" y="719.5">다락</text><text y="743.5">84E(401)</text><text y="771.5">84D(301)</text><text y="799.5">98(201)</text></g>
<g class="c" transform="translate(664.375 0) scale(.8 1)"><text><tspan x="0" y="825">101B</tspan><tspan x="0" y="842">(108)</tspan></text></g>
<g class="c" transform="translate(703.125 0) scale(.8 1)"><text><tspan x="0" y="825">101A</tspan><tspan x="0" y="842">(107)</tspan></text></g>
<g class="c" transform="translate(741.875 0) scale(.8 1)"><text><tspan x="0" y="825">101A</tspan><tspan x="0" y="842">(106)</tspan></text></g>
<g class="c" transform="translate(780.625 0) scale(.8 1)"><text><tspan x="0" y="825">101B</tspan><tspan x="0" y="842">(105)</tspan></text></g>
<g class="c" transform="translate(819.375 0) scale(.8 1)"><text><tspan x="0" y="825">101B</tspan><tspan x="0" y="842">(104)</tspan></text></g>
<g class="c" transform="translate(858.125 0) scale(.8 1)"><text><tspan x="0" y="825">101A</tspan><tspan x="0" y="842">(103)</tspan></text></g>
<g class="c" transform="translate(896.875 0) scale(.8 1)"><text><tspan x="0" y="825">101A</tspan><tspan x="0" y="842">(102)</tspan></text></g>
<g class="c" transform="translate(935.625 0) scale(.8 1)"><text><tspan x="0" y="825">101B</tspan><tspan x="0" y="842">(101)</tspan></text></g>
<text class="dg" x="800" y="865">114동</text><text class="hh" x="800" y="889">20세대</text>
</g>
</svg>
